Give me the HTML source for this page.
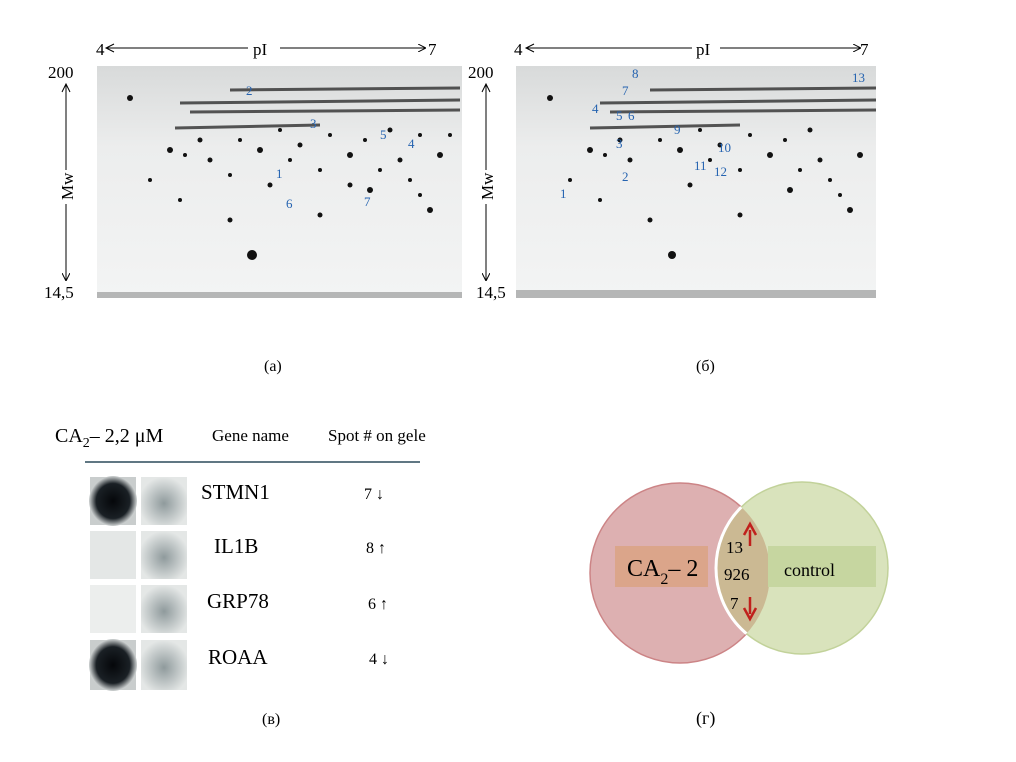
<!DOCTYPE html>
<html><head><meta charset="utf-8"><style>
body{margin:0;background:#fff;width:1016px;height:762px;overflow:hidden;font-family:"Liberation Serif",serif}
svg{position:absolute;left:0;top:0}
</style></head><body>
<svg width="1016" height="762" viewBox="0 0 1016 762">
<defs>
<marker id="ah" markerWidth="8" markerHeight="8" refX="7" refY="4" orient="auto"><path d="M0,0 L8,4 L0,8" fill="none" stroke="#000" stroke-width="1"/></marker>
<radialGradient id="blot" cx="50%" cy="50%" r="50%"><stop offset="0" stop-color="#05070a"/><stop offset="0.7" stop-color="#1a2025"/><stop offset="1" stop-color="#cfd3d3"/></radialGradient>
<radialGradient id="blot2" cx="50%" cy="55%" r="55%"><stop offset="0" stop-color="#8f9a9c"/><stop offset="1" stop-color="#e4e7e6"/></radialGradient>
<linearGradient id="gelg" x1="0" y1="0" x2="0" y2="1"><stop offset="0" stop-color="#d8dada"/><stop offset="0.35" stop-color="#eceded"/><stop offset="1" stop-color="#f3f4f4"/></linearGradient>
</defs>

<g>
<rect x="97" y="66" width="365" height="232" fill="url(#gelg)"/>
<g stroke="#222" stroke-width="3" opacity="0.75">
<line x1="180" y1="103" x2="460" y2="100"/><line x1="190" y1="112" x2="460" y2="110"/><line x1="175" y1="128" x2="320" y2="125"/><line x1="230" y1="90" x2="460" y2="88"/>
</g>
<g fill="#111">
<circle cx="252" cy="255" r="5"/><circle cx="130" cy="98" r="3"/><circle cx="170" cy="150" r="3"/><circle cx="210" cy="160" r="2.5"/><circle cx="260" cy="150" r="3"/><circle cx="300" cy="145" r="2.5"/><circle cx="350" cy="155" r="3"/><circle cx="400" cy="160" r="2.5"/><circle cx="440" cy="155" r="3"/><circle cx="370" cy="190" r="3"/><circle cx="350" cy="185" r="2.5"/><circle cx="270" cy="185" r="2.5"/><circle cx="320" cy="170" r="2"/><circle cx="430" cy="210" r="3"/><circle cx="230" cy="220" r="2.5"/><circle cx="180" cy="200" r="2"/><circle cx="320" cy="215" r="2.5"/><circle cx="390" cy="130" r="2.5"/><circle cx="420" cy="135" r="2"/><circle cx="280" cy="130" r="2"/><circle cx="200" cy="140" r="2.5"/><circle cx="150" cy="180" r="2"/><circle cx="230" cy="175" r="2"/><circle cx="410" cy="180" r="2"/>
<circle cx="185" cy="155" r="2"/><circle cx="240" cy="140" r="2"/><circle cx="330" cy="135" r="2"/><circle cx="365" cy="140" r="2"/><circle cx="290" cy="160" r="2"/><circle cx="380" cy="170" r="2"/><circle cx="450" cy="135" r="2"/><circle cx="420" cy="195" r="2"/>
</g>
<rect x="97" y="292" width="365" height="6" fill="#777" opacity="0.5"/>
<g fill="#2563b0" font-size="13" font-family="Liberation Serif,serif">
<text x="246" y="95">2</text><text x="310" y="128">3</text><text x="380" y="139">5</text><text x="408" y="148">4</text><text x="276" y="178">1</text><text x="286" y="208">6</text><text x="364" y="206">7</text>
</g>
</g>

<g>
<rect x="516" y="66" width="360" height="232" fill="url(#gelg)"/>
<g stroke="#222" stroke-width="3" opacity="0.75">
<line x1="600" y1="103" x2="876" y2="100"/><line x1="610" y1="112" x2="876" y2="110"/><line x1="590" y1="128" x2="740" y2="125"/><line x1="650" y1="90" x2="876" y2="88"/>
</g>
<g fill="#111">
<circle cx="672" cy="255" r="4"/><circle cx="550" cy="98" r="3"/><circle cx="590" cy="150" r="3"/><circle cx="630" cy="160" r="2.5"/><circle cx="680" cy="150" r="3"/><circle cx="720" cy="145" r="2.5"/><circle cx="770" cy="155" r="3"/><circle cx="820" cy="160" r="2.5"/><circle cx="860" cy="155" r="3"/><circle cx="790" cy="190" r="3"/><circle cx="690" cy="185" r="2.5"/><circle cx="740" cy="170" r="2"/><circle cx="850" cy="210" r="3"/><circle cx="650" cy="220" r="2.5"/><circle cx="600" cy="200" r="2"/><circle cx="740" cy="215" r="2.5"/><circle cx="810" cy="130" r="2.5"/><circle cx="700" cy="130" r="2"/><circle cx="620" cy="140" r="2.5"/><circle cx="570" cy="180" r="2"/><circle cx="830" cy="180" r="2"/>
<circle cx="605" cy="155" r="2"/><circle cx="660" cy="140" r="2"/><circle cx="750" cy="135" r="2"/><circle cx="785" cy="140" r="2"/><circle cx="710" cy="160" r="2"/><circle cx="800" cy="170" r="2"/><circle cx="840" cy="195" r="2"/>
</g>
<rect x="516" y="290" width="360" height="8" fill="#777" opacity="0.5"/>
<g fill="#2563b0" font-size="13" font-family="Liberation Serif,serif">
<text x="632" y="78">8</text><text x="622" y="95">7</text><text x="592" y="113">4</text><text x="616" y="120">5</text><text x="628" y="120">6</text><text x="674" y="134">9</text><text x="616" y="148">3</text><text x="718" y="152">10</text><text x="622" y="181">2</text><text x="694" y="170">11</text><text x="714" y="176">12</text><text x="560" y="198">1</text><text x="852" y="82">13</text>
</g>
</g>

<g font-size="17">
<path d="M114,44 L106,48 L114,52" fill="none" stroke="#000"/>
<line x1="107" y1="48" x2="248" y2="48" stroke="#000"/>
<line x1="280" y1="48" x2="425" y2="48" stroke="#000" marker-end="url(#ah)"/>
<text x="96" y="55">4</text><text x="253" y="55">pI</text><text x="428" y="55">7</text>
<text x="48" y="78">200</text><text x="44" y="298">14,5</text>
<line x1="66" y1="84" x2="66" y2="280" stroke="#000" marker-end="url(#ah)"/>
<path d="M62,92 L66,84 L70,92" fill="none" stroke="#000"/>
<rect x="58" y="170" width="16" height="34" fill="#fff"/>
<text x="0" y="0" transform="translate(73,200) rotate(-90)">Mw</text>
<text x="264" y="371" font-size="16">(а)</text>
</g>
<g font-size="17">
<path d="M534,44 L526,48 L534,52" fill="none" stroke="#000"/>
<line x1="527" y1="48" x2="692" y2="48" stroke="#000"/>
<line x1="720" y1="48" x2="860" y2="48" stroke="#000" marker-end="url(#ah)"/>
<text x="514" y="55">4</text><text x="696" y="55">pI</text><text x="860" y="55">7</text>
<text x="468" y="78">200</text><text x="476" y="298">14,5</text>
<line x1="486" y1="84" x2="486" y2="280" stroke="#000" marker-end="url(#ah)"/>
<path d="M482,92 L486,84 L490,92" fill="none" stroke="#000"/>
<rect x="478" y="170" width="16" height="34" fill="#fff"/>
<text x="0" y="0" transform="translate(493,200) rotate(-90)">Mw</text>
<text x="696" y="371" font-size="16">(б)</text>
</g>

<g>
<text x="55" y="442" font-size="20">CA<tspan font-size="14" dy="5">2</tspan><tspan dy="-5">– 2,2 μM</tspan></text>
<text x="212" y="441" font-size="17">Gene name</text>
<text x="328" y="441" font-size="17">Spot # on gele</text>
<line x1="85" y1="462" x2="420" y2="462" stroke="#2c4a5a" stroke-width="1.5"/>
<rect x="90" y="477" width="46" height="48" fill="#c9cdcd"/><ellipse cx="113" cy="501" rx="24" ry="25" fill="url(#blot)"/>
<rect x="141" y="477" width="46" height="48" fill="url(#blot2)"/>
<rect x="90" y="531" width="46" height="48" fill="#e4e7e6"/>
<rect x="141" y="531" width="46" height="48" fill="url(#blot2)"/>
<rect x="90" y="585" width="46" height="48" fill="#eceeed"/>
<rect x="141" y="585" width="46" height="48" fill="url(#blot2)"/>
<rect x="90" y="640" width="46" height="50" fill="#c9cdcd"/><ellipse cx="113" cy="665" rx="24" ry="26" fill="url(#blot)"/>
<rect x="141" y="640" width="46" height="50" fill="url(#blot2)"/>
<g font-size="21">
<text x="201" y="499">STMN1</text><text x="214" y="553">IL1B</text><text x="207" y="608">GRP78</text><text x="208" y="664">ROAA</text>
</g>
<g font-size="16">
<text x="364" y="499">7 ↓</text><text x="366" y="553">8 ↑</text><text x="368" y="609">6 ↑</text><text x="369" y="664">4 ↓</text>
</g>
<text x="262" y="724" font-size="16">(в)</text>
</g>

<g>
<circle cx="680" cy="573" r="90" fill="#ddb0b1" stroke="#cc8486" stroke-width="1.5"/>
<circle cx="802" cy="568" r="86" fill="#d9e3bc" stroke="#c2d29a" stroke-width="1.5"/>
<clipPath id="cr"><circle cx="680" cy="573" r="90"/></clipPath>
<circle cx="802" cy="568" r="86" fill="#cbb993" clip-path="url(#cr)" stroke="#fff" stroke-width="3"/>
<rect x="615" y="546" width="93" height="41" fill="#dba58a"/>
<rect x="768" y="546" width="108" height="41" fill="#c6d6a0"/>
<text x="627" y="576" font-size="24">CA<tspan font-size="16" dy="8">2</tspan><tspan dy="-8">– 2</tspan></text>
<text x="784" y="576" font-size="18">control</text>
<text x="726" y="553" font-size="17">13</text>
<text x="724" y="580" font-size="17">926</text>
<text x="730" y="609" font-size="17">7</text>
<g stroke="#c0201c" stroke-width="2.5" fill="#c0201c">
<line x1="750" y1="546" x2="750" y2="530"/><path d="M744,535 L750,524 L756,535" fill="none"/>
<line x1="750" y1="597" x2="750" y2="614"/><path d="M744,608 L750,619 L756,608" fill="none"/>
</g>
<text x="696" y="724" font-size="18">(г)</text>
</g>
</svg>
</body></html>
